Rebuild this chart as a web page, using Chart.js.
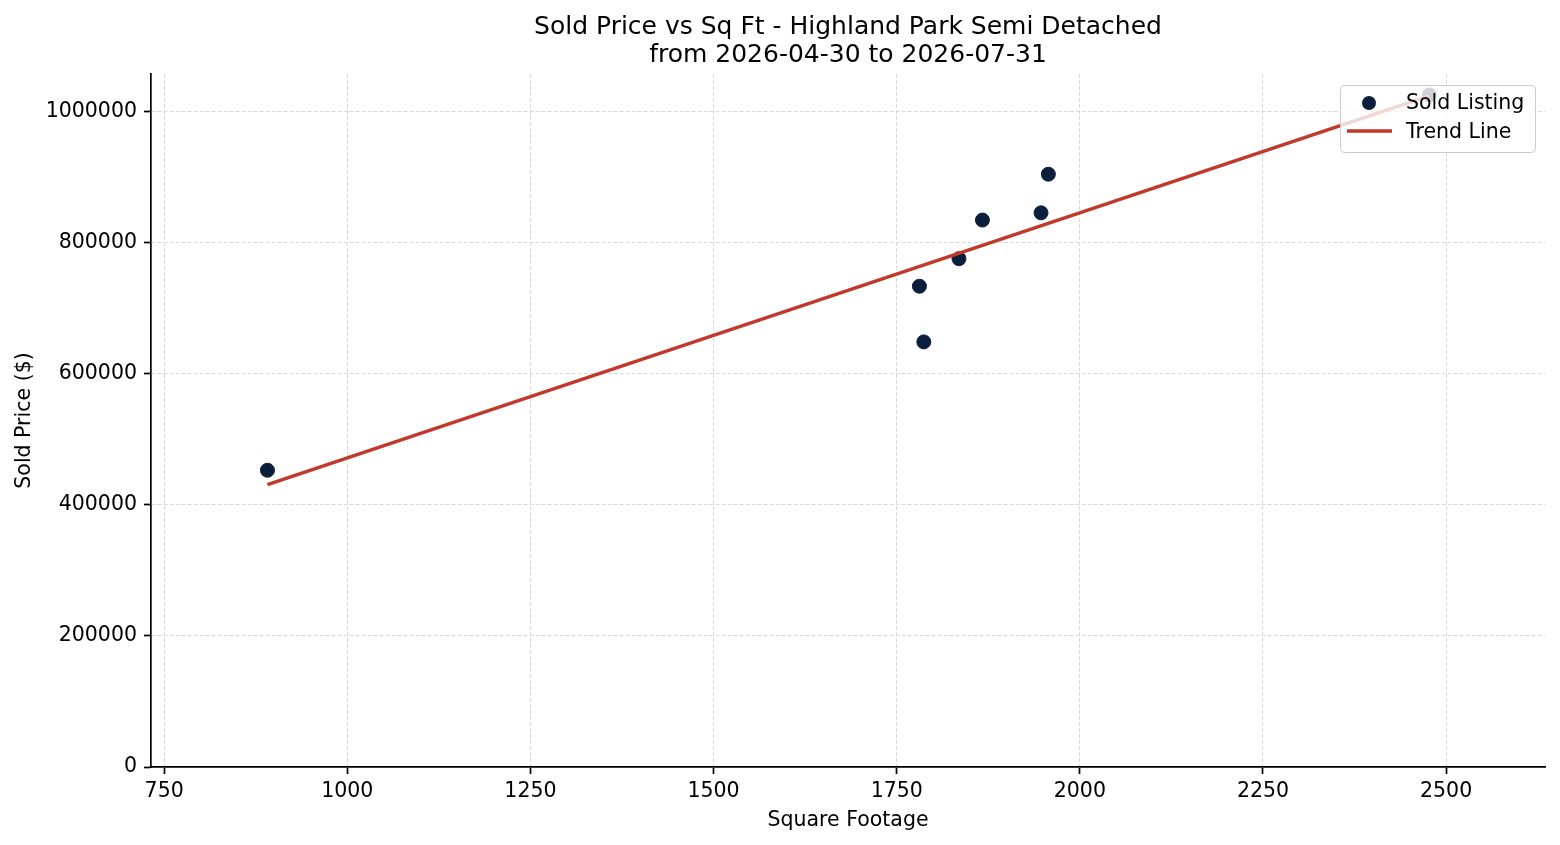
<!DOCTYPE html>
<html>
<head>
<meta charset="utf-8">
<script src="https://cdn.jsdelivr.net/npm/chart.js@4.4.1/dist/chart.umd.min.js"></script>
<style>
  html, body { margin: 0; padding: 0; background: #fff; }
  #wrap { width: 1560px; height: 845px; }
</style>
</head>
<body>
<div id="wrap"><canvas id="priceChart" width="1560" height="845"></canvas></div>
<script>
// Data
const sqFt = [891, 1781, 1787, 1835, 1867, 1947, 1957, 2477];
const soldPrice = [453000, 734000, 649000, 776000, 835000, 846000, 905000, 1026000];
const trendSqFt = [891, 2477];
const trendPrice = [431000, 1024700];
const xTicks = [750, 1000, 1250, 1500, 1750, 2000, 2250, 2500];
const yTicks = [0, 200000, 400000, 600000, 800000, 1000000];

const titleLines = ['Sold Price vs Sq Ft - Highland Park Semi Detached', 'from 2026-04-30 to 2026-07-31'];
const FONT = '"DejaVu Sans", sans-serif';
const pointColor = '#0b1f3d';
const lineColor = '#c0392b';
const gridColor = '#d9d9d9';

// Legend drawn inside the plot, top right, like the original
const insideLegend = {
  id: 'insideLegend',
  afterDraw(chart) {
    const ctx = chart.ctx;
    const area = chart.chartArea;
    const w = 195, h = 67;
    const x = area.right - w - 10, y = area.top + 11;
    ctx.save();
    ctx.fillStyle = 'rgba(255,255,255,0.8)';
    ctx.strokeStyle = '#cccccc';
    ctx.lineWidth = 1;
    ctx.beginPath();
    ctx.roundRect(x + 0.5, y + 0.5, w, h, 4);
    ctx.fill();
    ctx.stroke();
    ctx.font = '20.5px ' + FONT;
    ctx.textBaseline = 'middle';
    // scatter entry
    ctx.beginPath();
    ctx.arc(x + 29, y + 18, 7, 0, Math.PI * 2);
    ctx.fillStyle = pointColor;
    ctx.fill();
    ctx.fillStyle = '#000';
    ctx.fillText(chart.data.datasets[1].label, x + 66, y + 19);
    // line entry
    ctx.strokeStyle = lineColor;
    ctx.lineWidth = 3.5;
    ctx.beginPath();
    ctx.moveTo(x + 7, y + 46);
    ctx.lineTo(x + 52, y + 46);
    ctx.stroke();
    ctx.fillText(chart.data.datasets[0].label, x + 66, y + 48);
    ctx.restore();
  }
};

const ctx = document.getElementById('priceChart').getContext('2d');
const chart = new Chart(ctx, {
  type: 'scatter',
  data: {
    datasets: [
      {
        type: 'line',
        label: 'Trend Line',
        data: trendSqFt.map((x, i) => ({ x, y: trendPrice[i] })),
        borderColor: lineColor,
        borderWidth: 3.5,
        pointRadius: 0,
        fill: false,
        order: 0
      },
      {
        label: 'Sold Listing',
        data: sqFt.map((x, i) => ({ x, y: soldPrice[i] })),
        backgroundColor: pointColor,
        borderColor: pointColor,
        pointRadius: 7,
        pointHoverRadius: 7,
        order: 1
      }
    ]
  },
  plugins: [insideLegend],
  options: {
    responsive: false,
    animation: false,
    layout: { padding: { left: 0, right: 15, top: 0, bottom: 0 } },
    plugins: {
      legend: { display: false },
      tooltip: { enabled: false },
      title: {
        display: true,
        fullSize: false,
        text: titleLines,
        color: '#000',
        font: { family: FONT, size: 25, weight: 'normal', lineHeight: 1.12 },
        padding: { top: 13, bottom: 5 }
      }
    },
    scales: {
      x: {
        type: 'linear',
        min: 732,
        max: 2635,
        afterBuildTicks: s => { s.ticks = xTicks.map(v => ({ value: v })); },
        afterFit: s => { s.height = 78; },
        ticks: { color: '#000', font: { family: FONT, size: 20.5 }, padding: 5, maxRotation: 0, callback: v => String(v) },
        grid: { color: gridColor, lineWidth: 1, tickColor: '#000', tickLength: 7, tickWidth: 1.7, tickBorderDash: [] },
        border: { color: '#000', width: 1.7, dash: [4, 2] },
        title: { display: true, text: 'Square Footage', color: '#000', font: { family: FONT, size: 20.5 }, padding: { top: 0, bottom: 12 } }
      },
      y: {
        min: 0,
        max: 1058000,
        afterBuildTicks: s => { s.ticks = yTicks.map(v => ({ value: v })); },
        afterFit: s => { s.width = 151; },
        ticks: { color: '#000', font: { family: FONT, size: 20.5 }, padding: 7, callback: v => String(v) },
        grid: { color: gridColor, lineWidth: 1, tickColor: '#000', tickLength: 7, tickWidth: 1.7, tickBorderDash: [] },
        border: { color: '#000', width: 1.7, dash: [4, 2] },
        title: { display: true, text: 'Sold Price ($)', color: '#000', font: { family: FONT, size: 20.5 }, padding: { top: 12, bottom: 0 } }
      }
    }
  }
});
</script>
</body>
</html>
